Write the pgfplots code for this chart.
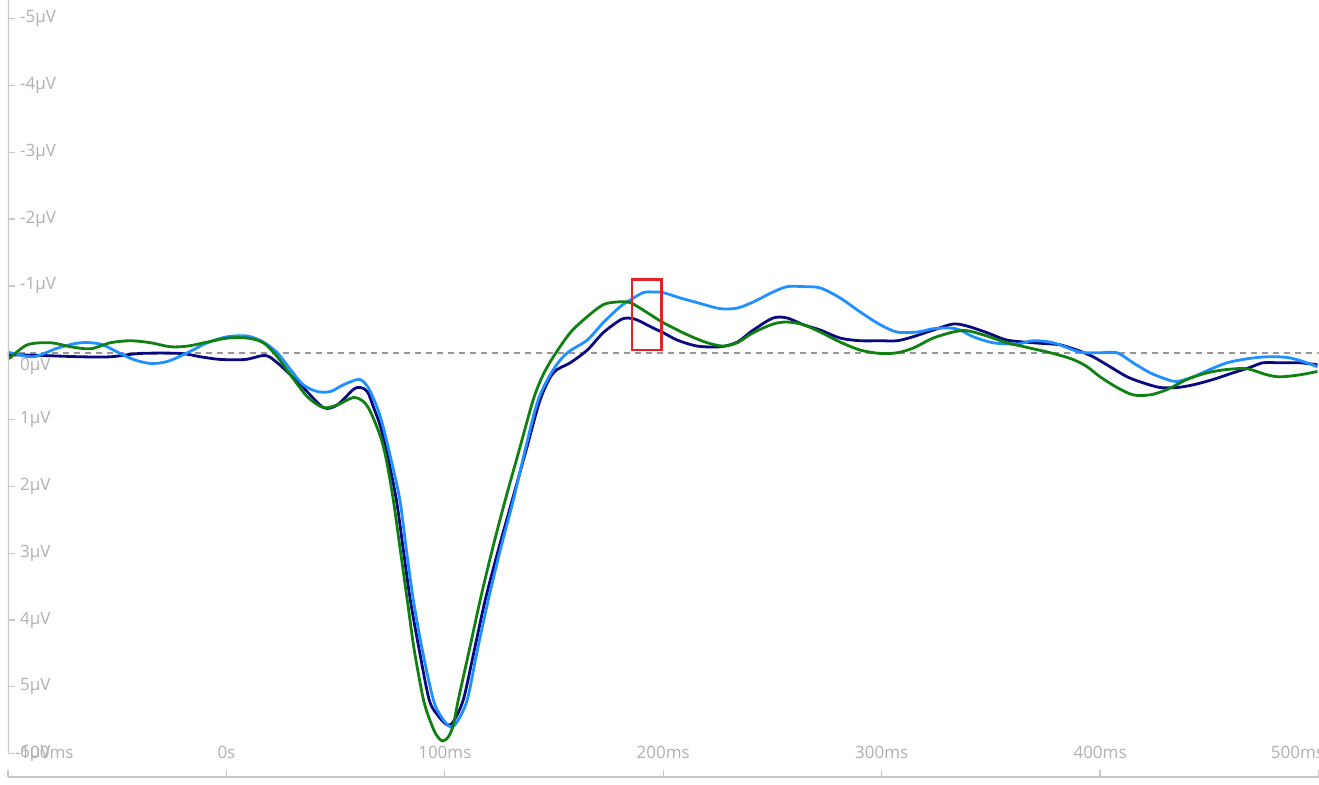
\documentclass[border=0pt]{standalone}
\usepackage{pgfplots}
\pgfplotsset{compat=1.18}
\usepackage{fontspec}
\setmainfont{Open Sans}
\usetikzlibrary{calc}
\definecolor{navyc}{RGB}{8,8,128}
\definecolor{bluec}{RGB}{30,144,255}
\definecolor{greenc}{RGB}{16,128,16}
\definecolor{axgray}{RGB}{200,200,200}
\definecolor{labgray}{RGB}{176,176,176}
\definecolor{zerogray}{RGB}{150,150,150}
\definecolor{boxred}{RGB}{232,32,40}

\pgfplotstableread{
t v
-100 0.03
-98.9 0.03
-85.1 0.04
-66.8 0.06
-53.1 0.06
-39.4 0.01
-21.1 0.01
-11.9 0.06
-2.7 0.10
8.7 0.10
17.8 0.04
23.3 0.15
29.3 0.33
35.2 0.52
44.4 0.82
50.8 0.78
58.1 0.55
61.3 0.52
64.5 0.58
67.3 0.81
70.5 1.10
73.7 1.53
77.8 2.20
81.0 2.95
84.2 3.70
88.3 4.45
92.8 5.19
96.6 5.42
101.1 5.57
103.9 5.52
108.5 5.19
113.5 4.45
118.5 3.70
124.5 2.95
130.9 2.20
137.3 1.45
143.7 0.70
149.7 0.30
157.4 0.15
165.2 -0.04
172.5 -0.30
180.3 -0.49
184.0 -0.52
188.1 -0.49
195.4 -0.37
200.0 -0.30
206.4 -0.19
215.6 -0.10
226.1 -0.09
233.9 -0.16
241.2 -0.34
250.3 -0.52
256.8 -0.52
264.1 -0.42
271.9 -0.34
281.0 -0.22
290.2 -0.18
299.3 -0.18
307.1 -0.18
314.4 -0.24
323.6 -0.34
332.7 -0.43
339.1 -0.40
348.3 -0.30
357.4 -0.19
369.3 -0.15
378.5 -0.13
381.7 -0.12
389.5 -0.04
396.8 0.06
404.6 0.21
412.4 0.36
419.7 0.45
427.5 0.52
435.2 0.52
442.6 0.48
451.7 0.40
460.9 0.30
468.6 0.22
474.6 0.15
482.4 0.15
491.5 0.15
499.5 0.18
}\navydata

\pgfplotstableread{
t v
-100 0.00
-98.9 0.00
-88.3 0.06
-77.3 -0.07
-66.8 -0.15
-57.7 -0.13
-49.9 -0.01
-42.6 0.10
-34.8 0.16
-27.0 0.13
-17.8 0.00
-8.7 -0.15
0.5 -0.24
9.6 -0.25
16.9 -0.16
23.3 0.00
29.3 0.25
35.2 0.48
41.6 0.58
47.6 0.58
53.5 0.48
60.0 0.40
62.7 0.43
65.9 0.58
70.5 0.96
75.1 1.56
79.4 2.20
82.4 2.95
85.6 3.70
89.7 4.45
94.7 5.19
98.4 5.45
102.5 5.60
105.7 5.52
110.3 5.19
114.9 4.45
119.9 3.70
125.4 2.95
131.4 2.20
136.8 1.45
142.8 0.70
149.7 0.25
156.1 0.00
165.2 -0.19
172.5 -0.45
180.3 -0.69
184.9 -0.79
190.8 -0.90
195.4 -0.91
200.0 -0.90
207.8 -0.82
215.6 -0.75
226.1 -0.66
233.9 -0.67
241.2 -0.76
250.3 -0.91
256.8 -0.99
264.1 -0.99
271.9 -0.97
281.0 -0.82
290.2 -0.61
299.3 -0.42
307.1 -0.31
316.2 -0.31
323.6 -0.36
331.4 -0.37
335.9 -0.34
341.9 -0.24
351.0 -0.15
362.0 -0.13
369.3 -0.18
378.5 -0.15
390.8 -0.01
400.0 0.00
407.8 0.00
415.1 0.15
422.9 0.30
430.7 0.40
435.2 0.43
442.6 0.36
450.3 0.25
458.1 0.15
467.3 0.09
476.4 0.06
485.6 0.07
492.9 0.13
499.5 0.21
}\bluedata

\pgfplotstableread{
t v
-100 0.07
-98.9 0.07
-91.1 -0.12
-80.5 -0.15
-71.4 -0.09
-62.2 -0.06
-53.1 -0.15
-43.9 -0.18
-34.8 -0.15
-25.6 -0.09
-17.8 -0.10
-8.7 -0.16
0.5 -0.22
9.6 -0.22
16.9 -0.15
23.3 0.06
29.3 0.33
37.1 0.66
44.4 0.82
50.8 0.78
58.1 0.67
62.7 0.73
65.9 0.88
70.5 1.25
73.2 1.60
76.4 2.20
79.6 2.95
82.8 3.70
86.0 4.45
90.2 5.19
93.4 5.52
96.1 5.72
98.9 5.81
101.6 5.75
103.9 5.57
106.2 5.19
111.2 4.45
116.2 3.70
121.7 2.95
127.7 2.20
134.1 1.45
140.5 0.70
145.0 0.33
149.7 0.06
157.4 -0.30
165.2 -0.54
172.5 -0.72
178.9 -0.76
184.9 -0.75
192.7 -0.60
200.0 -0.45
211.0 -0.27
220.1 -0.15
227.5 -0.10
233.9 -0.15
241.2 -0.30
250.3 -0.43
256.8 -0.46
264.1 -0.42
271.9 -0.31
281.0 -0.16
290.2 -0.04
299.3 0.01
307.1 0.00
314.4 -0.07
323.6 -0.22
332.7 -0.31
339.1 -0.33
348.3 -0.25
357.4 -0.15
369.3 -0.06
378.5 0.01
387.6 0.10
394.1 0.21
400.0 0.36
407.8 0.52
415.1 0.63
422.9 0.63
430.7 0.55
439.8 0.40
449.0 0.30
458.1 0.25
467.3 0.24
476.4 0.33
482.4 0.36
491.5 0.33
499.5 0.28
}\greendata

\begin{document}
\begin{tikzpicture}
\begin{axis}[
  scale only axis, width=1310.5pt, height=777pt,
  xmin=-100, xmax=500, ymin=-5.28, ymax=6.35, y dir=reverse,
  axis x line=bottom, axis y line=left,
  y axis line style={draw=none},
  x axis line style={axgray, line width=2pt, -},
  tick align=inside,
  major tick length=7pt,
  tick style={axgray, line width=1.3pt},
  ticklabel style={font=\fontsize{17}{20}\selectfont, text=labgray, inner sep=0pt},
  xtick={-100,0,100,200,300,400,500},
  xticklabels={\makebox[0pt][l]{\kern7pt -100ms},0s,100ms,200ms,300ms,400ms,\makebox[0pt][r]{500ms\kern-5.5pt}},
  xticklabel style={anchor=base, yshift=19pt},
  ytick={-5,-4,-3,-2,-1,1,2,3,4,5,6},
  yticklabels={-5µV,-4µV,-3µV,-2µV,-1µV,1µV,2µV,3µV,4µV,5µV,6µV},
  yticklabel style={anchor=west, xshift=12pt},
  extra y ticks={0},
  extra y tick labels={0µV},
  extra y tick style={yticklabel style={yshift=-14pt}},
]
\addplot[zerogray, line width=1.5pt, dash pattern=on 6pt off 5pt] coordinates {(-100,0) (500,0)};
\addplot[navyc, line width=2.8pt, smooth, tension=0.5] table {\navydata};
\addplot[bluec, line width=2.8pt, smooth, tension=0.5] table {\bluedata};
\addplot[greenc, line width=2.8pt, smooth, tension=0.5] table {\greendata};
\draw[boxred, line width=2.6pt] (axis cs:185.6,-1.1) rectangle (axis cs:199.3,-0.04);
\draw[axgray, line width=2pt] (axis cs:-100,-5.28) -- (axis cs:-100,6);
\coordinate (SW) at (axis cs:-100,6.35);
\end{axis}
\pgfresetboundingbox
\path[use as bounding box] ($(SW)+(-8pt,-7pt)$) rectangle ++(1319pt,784pt);
\end{tikzpicture}
\end{document}
